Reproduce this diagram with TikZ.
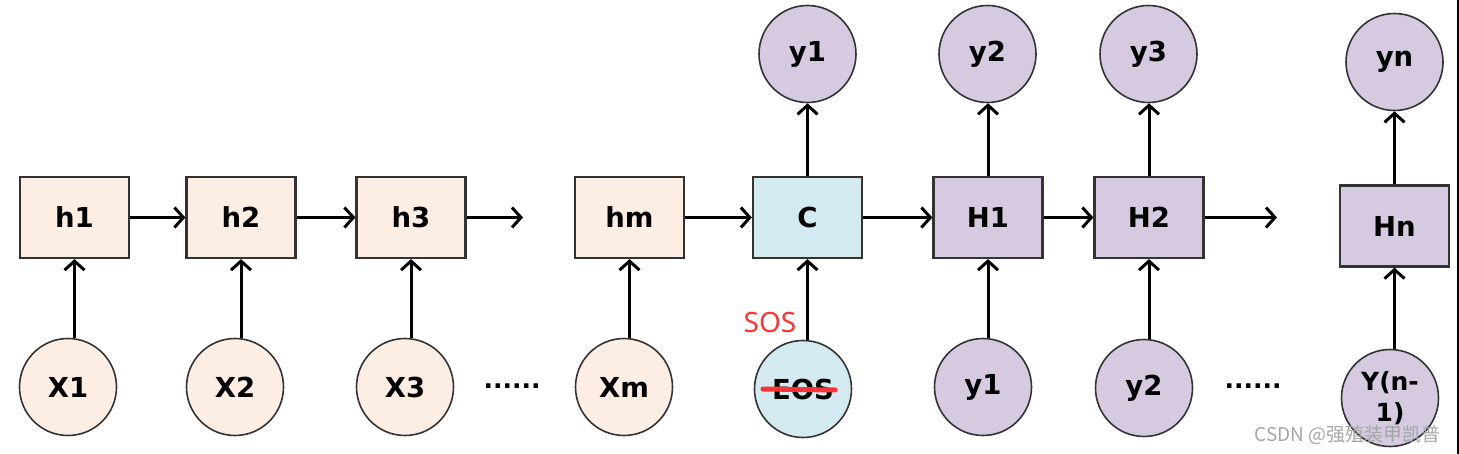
\documentclass[tikz,border=0pt]{standalone}
\usepackage{fontspec}
\setmainfont{DejaVu Sans}
\newfontfamily\cjkfont{Noto Sans CJK SC}
\newfontfamily\sosfont{Noto Sans}
\usetikzlibrary{arrows.meta}
\definecolor{peach}{HTML}{FCEEE2}
\definecolor{lblue}{HTML}{D3EAF0}
\definecolor{lpurple}{HTML}{D5CAE0}
\definecolor{edge}{HTML}{333333}
\begin{document}
\begin{tikzpicture}[x=1pt,y=-1pt,
  box/.style={draw=edge,line width=2.2pt,minimum width=109pt,minimum height=81pt,inner sep=0pt,font=\fontsize{27.5}{30}\selectfont\bfseries},
  circ/.style={draw=edge,line width=1.6pt,circle,minimum size=97pt,inner sep=0pt,font=\fontsize{27.5}{30}\selectfont\bfseries,align=center},
  arr/.style={line width=3pt,-{Straight Barb[length=9pt,width=20pt,line width=3pt]}},
  dots/.style={font=\fontsize{25}{28}\selectfont\bfseries}
]
\useasboundingbox (0,0) rectangle (1459,454);
\fill[black] (1456.5,0) rectangle (1459,454);
% encoder boxes
\node[box,fill=peach] (h1) at (74.5,217.5) {h1};
\node[box,fill=peach] (h2) at (241,217.5) {h2};
\node[box,fill=peach] (h3) at (411,217.5) {h3};
\node[box,fill=peach] (hm) at (629.5,217.5) {hm};
\node[box,fill=lblue] (C) at (807.5,217.5) {C};
\node[box,fill=lpurple] (H1) at (988,217.5) {H1};
\node[box,fill=lpurple] (H2) at (1149,217.5) {H2};
\node[box,fill=lpurple] (Hn) at (1394.5,226) {Hn};
% bottom circles
\node[circ,fill=peach] (x1) at (68,387) {X1};
\node[circ,fill=peach] (x2) at (235,387) {X2};
\node[circ,fill=peach] (x3) at (405,387) {X3};
\node[circ,fill=peach] (xm) at (624,387) {Xm};
\node[circ,fill=lblue] (eos) at (803,389) {EOS};
\node[circ,fill=lpurple] (iy1) at (983,387) {y1};
\node[circ,fill=lpurple] (iy2) at (1144,388) {y2};
\node[circ,fill=lpurple,font=\fontsize{25}{31}\selectfont\bfseries] (iyn) at (1390,398) {Y(n-\\1)};
% top circles
\node[circ,fill=lpurple] (oy1) at (807.5,54) {y1};
\node[circ,fill=lpurple] (oy2) at (987.5,54) {y2};
\node[circ,fill=lpurple] (oy3) at (1148.5,54) {y3};
\node[circ,fill=lpurple] (oyn) at (1394.5,62) {yn};
% dots
\node[dots] (d1) at (512,386) {......};
\node[dots] (d2) at (1253,386) {......};
% free ends
\coordinate (e1) at (523,217.5);
\coordinate (e2) at (1277,217.5);
% horizontal arrows
\draw[arr] (h1) -- (h2);
\draw[arr] (h2) -- (h3);
\draw[arr] (h3.east) -- (e1);
\draw[arr] (hm) -- (C);
\draw[arr] (C) -- (H1);
\draw[arr] (H1) -- (H2);
\draw[arr] (H2.east) -- (e2);
% vertical arrows up from inputs
\draw[arr] (h1.south |- x1.north) -- (h1.south);
\draw[arr] (h2.south |- x2.north) -- (h2.south);
\draw[arr] (h3.south |- x3.north) -- (h3.south);
\draw[arr] (hm.south |- xm.north) -- (hm.south);
\draw[arr] (C.south |- eos.north) -- (C.south);
\draw[arr] (H1.south |- iy1.north) -- (H1.south);
\draw[arr] (H2.south |- iy2.north) -- (H2.south);
\draw[arr] (Hn.south |- iyn.north) -- (Hn.south);
% outputs
\draw[arr] (C.north) -- (C.north |- oy1.south);
\draw[arr] (H1.north) -- (H1.north |- oy2.south);
\draw[arr] (H2.north) -- (H2.north |- oy3.south);
\draw[arr] (Hn.north) -- (Hn.north |- oyn.south);
% SOS correction
\node[text=red!80!white,font=\sosfont\fontsize{28}{30}\selectfont] (sos) at (770,322) {SOS};
\draw[red!80!white,line width=5pt,line cap=round] ([xshift=-40pt]eos.center) -- ([xshift=32pt,yshift=-1pt]eos.center);
% watermark
\node[text=gray!70,font=\cjkfont\fontsize{19}{20}\selectfont,anchor=east] (wm) at (1444,435) {CSDN @强殖装甲凯普};
\end{tikzpicture}
\end{document}
